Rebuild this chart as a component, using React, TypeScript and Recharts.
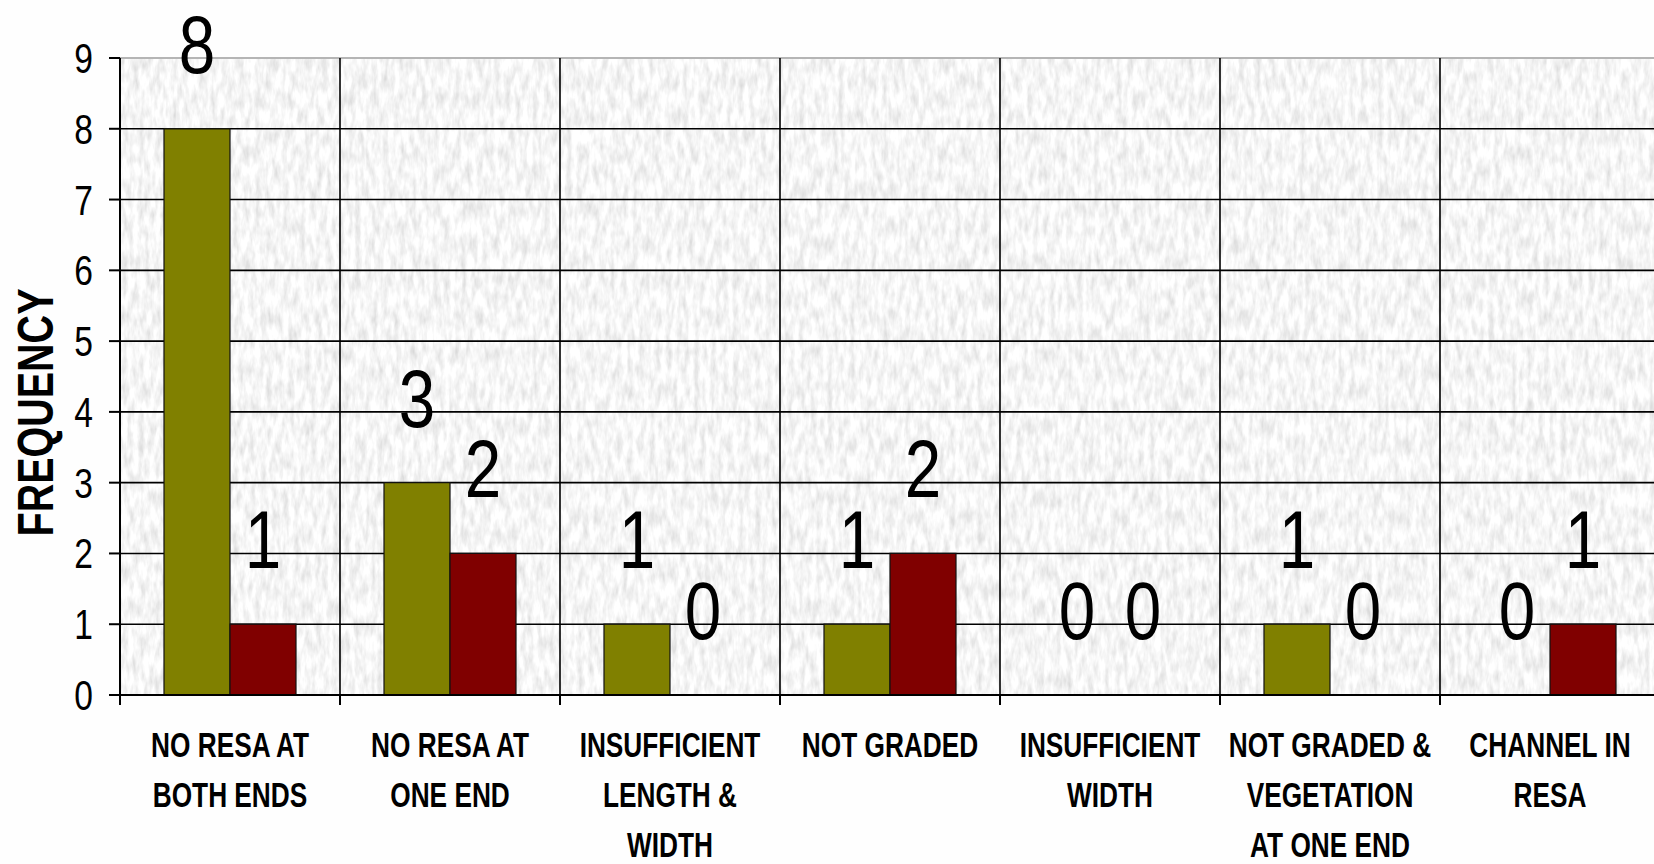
import React from 'react';
import { BarChart, Bar, XAxis, YAxis, CartesianGrid, LabelList, ReferenceLine, Label } from 'recharts';

const categories = [
  'NO RESA AT\nBOTH ENDS',
  'NO RESA AT\nONE END',
  'INSUFFICIENT\nLENGTH &\nWIDTH',
  'NOT GRADED',
  'INSUFFICIENT\nWIDTH',
  'NOT GRADED &\nVEGETATION\nAT ONE END',
  'CHANNEL IN\nRESA',
];
const seriesOlive = [8, 3, 1, 1, 0, 1, 0];
const seriesMaroon = [1, 2, 0, 2, 0, 0, 1];
const yTicks = [0, 1, 2, 3, 4, 5, 6, 7, 8, 9];
const gridY = [1, 2, 3, 4, 5, 6, 7, 8];

const data = categories.map((c, i) => ({ cat: c, a: seriesOlive[i], b: seriesMaroon[i] }));

// zero-valued bars still need a (invisible) rectangle so their "0" label is drawn
const barValue = (key: 'a' | 'b') => (d: any) => (d[key] === 0 ? 1e-9 : d[key]);

const FONT = "'Liberation Sans', Arial, sans-serif";

const XTick = (props: any) => {
  const { x, y, payload } = props;
  const half = payload && typeof payload.offset === 'number' ? payload.offset : 0;
  const lines = String(payload.value).split('\n');
  return (
    <g>
      <line x1={x - half} y1={y} x2={x - half} y2={y + 10} stroke="#000" strokeWidth={2} />
      {lines.map((ln: string, i: number) => (
        <text
          key={i}
          transform={`translate(${x},${y + 62 + i * 50}) scale(0.75,1)`}
          textAnchor="middle"
          fontFamily={FONT}
          fontSize={35}
          fontWeight="bold"
          fill="#000"
        >
          {ln}
        </text>
      ))}
    </g>
  );
};

const YTick = (props: any) => {
  const { x, y, payload } = props;
  return (
    <text
      transform={`translate(${x},${y + 15}) scale(0.8,1)`}
      textAnchor="end"
      fontFamily={FONT}
      fontSize={42}
      fill="#000"
    >
      {payload.value}
    </text>
  );
};

const makeValueLabel = (values: number[]) => (props: any) => {
  const vb = props.viewBox && typeof props.viewBox.x === 'number' ? props.viewBox : props;
  const cx = Number(vb.x) + Number(vb.width) / 2;
  const top = Number(vb.y) + Math.min(0, Number(vb.height));
  const v = typeof props.index === 'number' ? values[props.index] : props.value;
  return (
    <text
      transform={`translate(${cx},${top - 56}) scale(0.8,1)`}
      textAnchor="middle"
      fontFamily={FONT}
      fontSize={82}
      fill="#000"
    >
      {String(v)}
    </text>
  );
};

const renderYLabel = (props: any) => {
  const vb = props.viewBox || { x: 0, y: 58, width: 120, height: 637 };
  const cy = vb.y + vb.height / 2 + 36;
  return (
    <text
      transform={`translate(53,${cy}) rotate(-90) scale(0.79,1)`}
      textAnchor="middle"
      fontFamily={FONT}
      fontSize={50}
      fontWeight="bold"
      fill="#000"
    >
      FREQUENCY
    </text>
  );
};

export default function App() {
  return (
    <div style={{ position: 'absolute', left: 0, top: 0, width: 1654, height: 864, overflow: 'hidden', background: '#fefefe' }}>
      <svg width={0} height={0} style={{ position: 'absolute' }}>
        <defs>
          <filter id="granite" filterUnits="userSpaceOnUse" x={0} y={0} width={1700} height={864}>
            <feTurbulence type="fractalNoise" baseFrequency="0.18 0.055" numOctaves={3} seed={11} result="n" />
            <feColorMatrix
              in="n"
              type="matrix"
              values="0.5 0 0 0 0.67  0.5 0 0 0 0.67  0.5 0 0 0 0.67  0 0 0 0 1"
            />
          </filter>
          <pattern id="tex" patternUnits="userSpaceOnUse" x={0} y={0} width={1700} height={864}>
            <rect x={0} y={0} width={1700} height={864} fill="#e9e9e9" filter="url(#granite)" />
          </pattern>
        </defs>
      </svg>
      <BarChart
        width={1700}
        height={864}
        data={data}
        margin={{ top: 58, right: 40, bottom: 0, left: 0 }}
        barCategoryGap="20%"
        barGap={0}
      >
        <CartesianGrid
          fill="url(#tex)"
          fillOpacity={1}
          stroke="#000"
          strokeWidth={1.6}
          vertical={false}
          horizontalValues={gridY}
        />
        <ReferenceLine y={9} stroke="#b5b5b5" strokeWidth={2} />
        {categories.map((c) => (
          <ReferenceLine key={c} x={c} position="start" stroke="#000" strokeWidth={1.6} />
        ))}
        <ReferenceLine x={categories[categories.length - 1]} position="end" stroke="#000" strokeWidth={1.6} />
        <XAxis
          dataKey="cat"
          height={169}
          interval={0}
          tickSize={0}
          tickMargin={0}
          tickLine={false}
          axisLine={{ stroke: '#000', strokeWidth: 2 }}
          tick={<XTick />}
        />
        <YAxis
          width={120}
          domain={[0, 9]}
          ticks={yTicks}
          interval={0}
          tickSize={11}
          tickMargin={16}
          tickLine={{ stroke: '#000', strokeWidth: 2 }}
          axisLine={{ stroke: '#000', strokeWidth: 2 }}
          tick={<YTick />}
        >
          <Label content={renderYLabel} />
        </YAxis>
        <Bar dataKey={barValue('a')} name="Series 1" fill="#808000" stroke="#111" strokeWidth={1.2} isAnimationActive={false}>
          <LabelList content={makeValueLabel(seriesOlive)} />
        </Bar>
        <Bar dataKey={barValue('b')} name="Series 2" fill="#800000" stroke="#111" strokeWidth={1.2} isAnimationActive={false}>
          <LabelList content={makeValueLabel(seriesMaroon)} />
        </Bar>
      </BarChart>
    </div>
  );
}
